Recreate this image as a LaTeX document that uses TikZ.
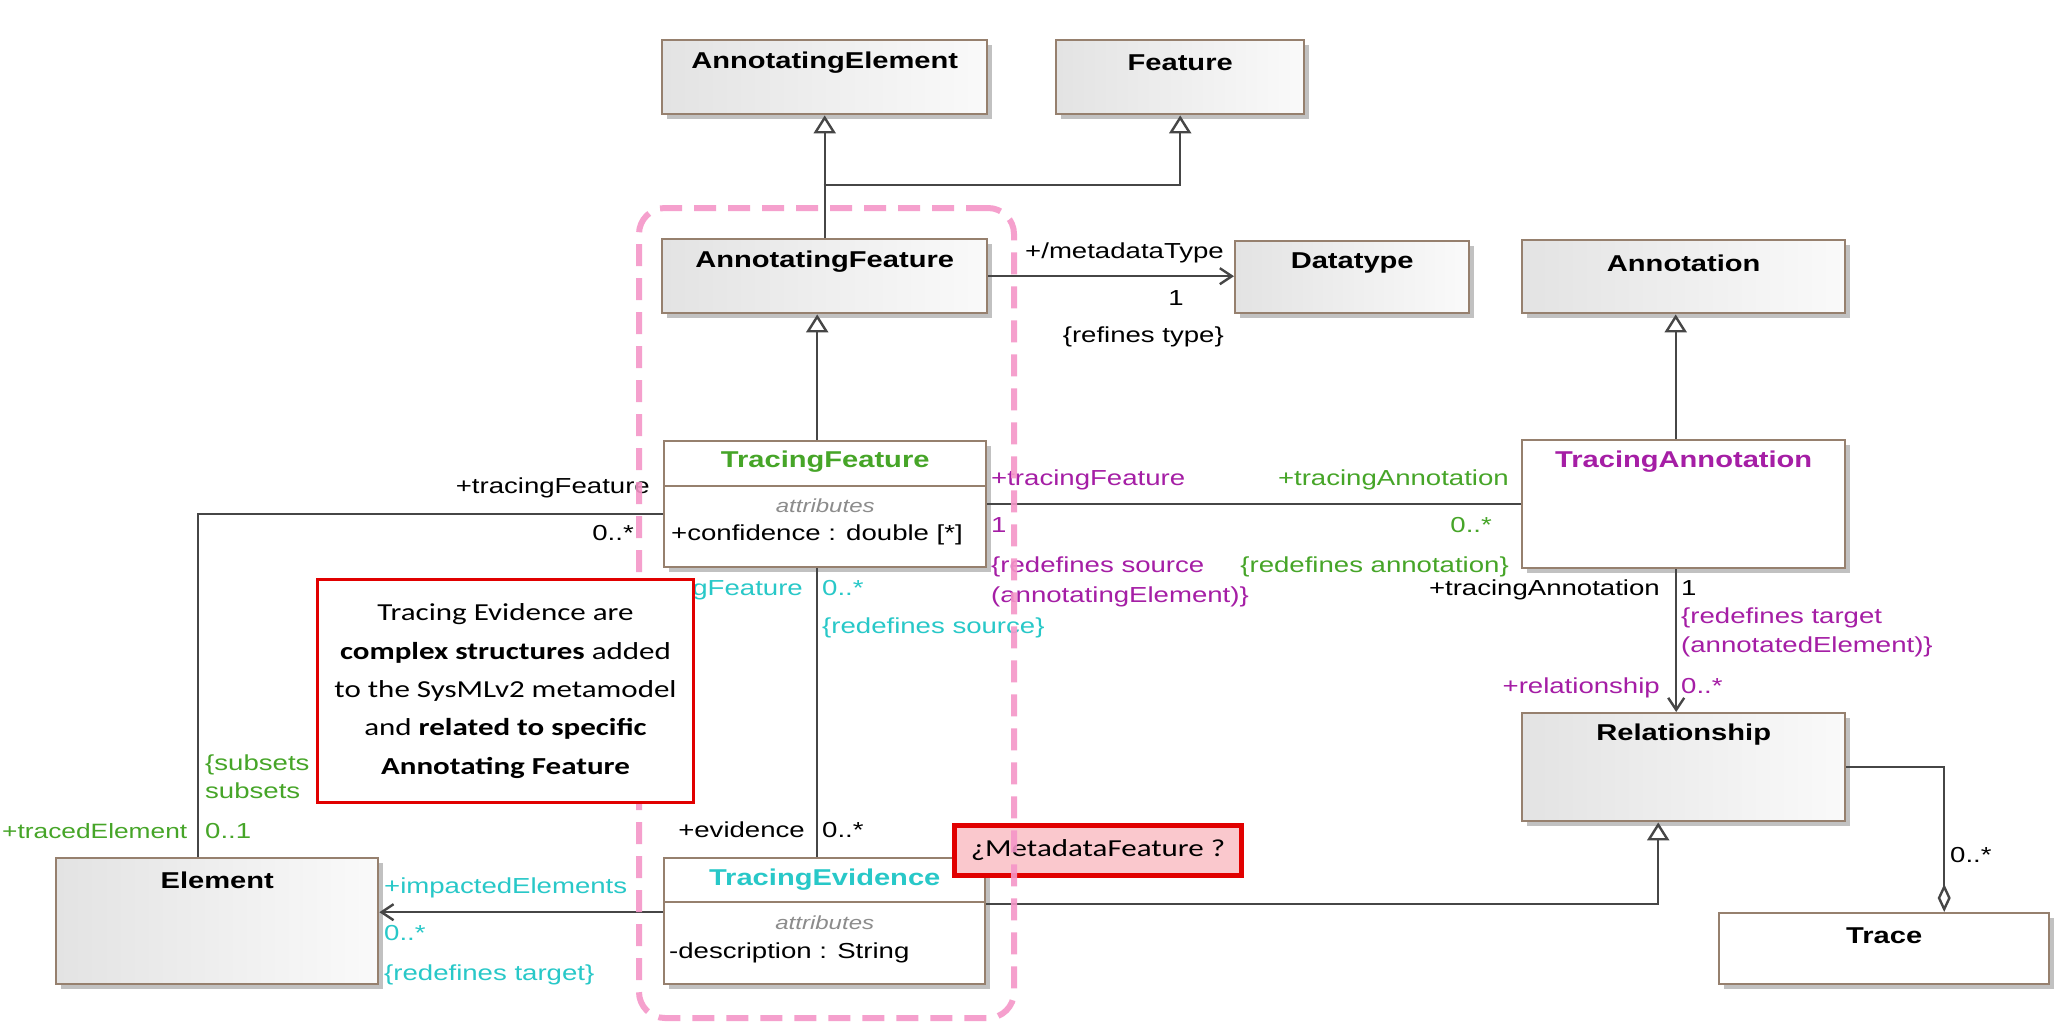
\documentclass[tikz,border=0pt]{standalone}
\usepackage{fontspec}
\setmainfont{Liberation Sans}
\newfontfamily\umlfont[FakeStretch=1.27]{Liberation Sans}
\newfontfamily\notefont[FakeStretch=1.27]{Carlito}
\usetikzlibrary{arrows.meta,shadows,calc}
\definecolor{boxc}{RGB}{150,128,110}
\definecolor{linec}{RGB}{70,70,70}
\definecolor{grn}{RGB}{70,165,40}
\definecolor{prp}{RGB}{165,30,165}
\definecolor{cyn}{RGB}{40,200,200}
\definecolor{pnk}{RGB}{245,150,200}
\definecolor{notered}{RGB}{225,0,0}
\definecolor{mdfill}{RGB}{250,200,205}
\begin{document}
\begin{tikzpicture}[x=1bp,y=-1bp,
  box/.style={draw=boxc, line width=2.4bp, inner sep=0pt, anchor=north west,
    drop shadow={shadow xshift=5bp, shadow yshift=-5bp, fill=black!30, opacity=0.8}},
  absbox/.style={box, shading=axis, shading angle=60, left color=black!11, right color=black!2},
  conbox/.style={box, fill=white},
  boxline/.style={draw=boxc, line width=2bp},
  cname/.style={font=\umlfont\bfseries\fontsize{23}{27}\selectfont, inner sep=0pt},
  lbl/.style={font=\umlfont\fontsize{21.8}{26}\selectfont, inner sep=0pt, text height=16bp, text depth=5bp},
  attr/.style={font=\umlfont\itshape\fontsize{19}{22}\selectfont, text=black!45, inner sep=0pt},
  conn/.style={draw=linec, line width=2.4bp},
  gen/.style={conn, -{Triangle[open, length=18bp, width=22bp, fill=white]}},
  nav/.style={conn, -{Straight Barb[length=12bp, width=16bp]}},
  agg/.style={conn, {Diamond[open, length=28bp, width=13bp, fill=white]}-},
  notefnt/.style={font=\notefont\fontsize{24.5}{38.5}\selectfont}
]
\useasboundingbox (0,0) rectangle (2068,1024);
\fill[white] (0,0) rectangle (2068,1024);

% ---------- boxes ----------
\node[absbox, minimum width=325bp, minimum height=74bp] (ae) at (661,39) {};
\node[absbox, minimum width=248bp, minimum height=74bp] (feat) at (1055,39) {};
\node[absbox, minimum width=325bp, minimum height=74bp] (af) at (661,238) {};
\node[absbox, minimum width=234bp, minimum height=72bp] (dt) at (1234,240) {};
\node[absbox, minimum width=323bp, minimum height=73bp] (ann) at (1521,239) {};
\node[conbox, minimum width=322bp, minimum height=126bp] (tf) at (663,440) {};
\node[conbox, minimum width=323bp, minimum height=128bp] (ta) at (1521,439) {};
\node[absbox, minimum width=322bp, minimum height=126bp] (el) at (55,857) {};
\node[conbox, minimum width=321bp, minimum height=126bp] (te) at (663,857) {};
\node[absbox, minimum width=323bp, minimum height=108bp] (rel) at (1521,712) {};
\node[conbox, minimum width=330bp, minimum height=71bp] (tr) at (1718,912) {};

\node[cname] (ae-n) at ([yshift=-24bp]ae.north) {AnnotatingElement};
\node[cname] (feat-n) at ([yshift=-24bp]feat.north) {Feature};
\node[cname] (af-n) at ([yshift=-24bp]af.north) {AnnotatingFeature};
\node[cname] (dt-n) at ([yshift=-23bp]dt.north) {Datatype};
\node[cname] (ann-n) at ([yshift=-24bp]ann.north) {Annotation};
\node[cname, text=grn] (tf-n) at ([yshift=-22bp]tf.north) {TracingFeature};
\node[cname, text=prp] (ta-n) at ([yshift=-23bp]ta.north) {TracingAnnotation};
\node[cname] (el-n) at ([yshift=-23bp]el.north) {Element};
\node[cname, text=cyn] (te-n) at ([yshift=-23bp]te.north) {TracingEvidence};
\node[cname] (rel-n) at ([yshift=-23bp]rel.north) {Relationship};
\node[cname] (tr-n) at ([yshift=-24bp]tr.north) {Trace};

\draw[boxline] ([yshift=-46bp]tf.north west) -- ([yshift=-46bp]tf.north east);
\node[attr] (tf-a) at ([yshift=-66bp]tf.north) {attributes};
\node[lbl, anchor=west] (tf-c) at ([xshift=8bp,yshift=-95bp]tf.north west) {+confidence : double [*]};
\draw[boxline] ([yshift=-45bp]te.north west) -- ([yshift=-45bp]te.north east);
\node[attr] (te-a) at ([yshift=-66bp]te.north) {attributes};
\node[lbl, anchor=west] (te-d) at ([xshift=6bp,yshift=-96bp]te.north west) {-description : String};

% ---------- connectors ----------
\coordinate (j1) at (823.5,185);
\draw[gen] (af.north) -- (ae.south);
\draw[gen] (j1) -| (feat.south);
\draw[gen] ([xshift=-8bp]tf.north) -- ([xshift=-8bp]tf.north |- af.south);
\draw[nav] (af.east) -- (af.east -| dt.west);
\draw[conn] (tf.east) -- (tf.east -| ta.west);
\draw[gen] ([xshift=-8bp]ta.north) -- ([xshift=-8bp]ta.north |- ann.south);
\draw[nav] ([xshift=-7.5bp]ta.south) -- ([xshift=-7.5bp]ta.south |- rel.north);
\draw[conn] ([yshift=-10bp]tf.west) -| ([xshift=-19bp]el.north);
\draw[conn] ([xshift=-8bp]tf.south) -- ([xshift=-8bp]tf.south |- te.north);
\draw[nav] ([yshift=9bp]te.west) -- ([yshift=9bp]te.west -| el.east);
\draw[gen] ([yshift=17bp]te.east) -| ([xshift=-25.5bp]rel.south);
\draw[agg] ([xshift=60bp]tr.north) |- (rel.east);

% ---------- labels ----------
% black
\node[lbl, anchor=east] (l1) at (1224,253) {+/metadataType};
\node[lbl] (l2) at (1176,300) {1};
\node[lbl, anchor=east] (l3) at (1224,337) {\{refines type\}};
\node[lbl, anchor=east] (l4) at (650,488) {+tracingFeature};
\node[lbl, anchor=east] (l5) at (634,535) {0..*};
\node[lbl, anchor=east] (l6) at (1660,590) {+tracingAnnotation};
\node[lbl, anchor=east] (l7) at (805,832) {+evidence};
\node[lbl, anchor=west] (l8) at (822,832) {0..*};
\node[lbl, anchor=west] (l9) at (1950,857) {0..*};
\node[lbl, anchor=west] (l13) at (1681,590) {1};
% purple
\node[lbl, anchor=west, text=prp] (p1) at (991,480) {+tracingFeature};
\node[lbl, anchor=west, text=prp] (p2) at (991,527) {1};
\node[lbl, anchor=west, text=prp] (p3) at (991,567) {\{redefines source};
\node[lbl, anchor=west, text=prp] (p4) at (991,597) {(annotatingElement)\}};
\node[lbl, anchor=west, text=prp] (p5) at (1681,618) {\{redefines target};
\node[lbl, anchor=west, text=prp] (p6) at (1681,647) {(annotatedElement)\}};
\node[lbl, anchor=east, text=prp] (p7) at (1660,688) {+relationship};
\node[lbl, anchor=west, text=prp] (p8) at (1681,688) {0..*};
% green
\node[lbl, anchor=east, text=grn] (g1) at (1509,480) {+tracingAnnotation};
\node[lbl, anchor=east, text=grn] (g2) at (1492,527) {0..*};
\node[lbl, anchor=east, text=grn] (g3) at (1509,567) {\{redefines annotation\}};
\node[lbl, anchor=west, text=grn] (g4) at (205,765) {\{subsets};
\node[lbl, anchor=west, text=grn] (g5) at (205,793) {subsets};
\node[lbl, anchor=west, text=grn, font=\umlfont\fontsize{20.8}{25}\selectfont] (g6) at (2,833) {+tracedElement};
\node[lbl, anchor=west, text=grn] (g7) at (205,833) {0..1};
% cyan
\node[lbl, anchor=east, text=cyn] (c1) at (803,590) {+tracingFeature};
\node[lbl, anchor=west, text=cyn] (c2) at (822,590) {0..*};
\node[lbl, anchor=west, text=cyn] (c3) at (822,628) {\{redefines source\}};
\node[lbl, anchor=west, text=cyn] (c4) at (384,888) {+impactedElements};
\node[lbl, anchor=west, text=cyn] (c5) at (384,935) {0..*};
\node[lbl, anchor=west, text=cyn] (c6) at (384,975) {\{redefines target\}};

% ---------- annotations ----------
\node[draw=notered, line width=5bp, fill=mdfill, minimum width=287bp, minimum height=50bp,
  anchor=north west, inner sep=0pt, notefnt] (md) at (952,823) {¿MetadataFeature ?};
\node[draw=pnk, line width=6bp, dash pattern=on 22bp off 12bp, rounded corners=26bp,
  minimum width=375bp, minimum height=810bp, anchor=north west, inner sep=0pt, opacity=0.9] (grp) at (636,205) {};
\node[draw=notered, line width=3bp, fill=white, minimum width=376bp, minimum height=223bp,
  anchor=north west, inner sep=0pt, align=center, notefnt] (note) at (316,578)
  {Tracing Evidence are\\ \textbf{complex structures} added\\ to the SysMLv2 metamodel\\ and \textbf{related to specific}\\ \textbf{Annotating Feature}};
\end{tikzpicture}
\end{document}
